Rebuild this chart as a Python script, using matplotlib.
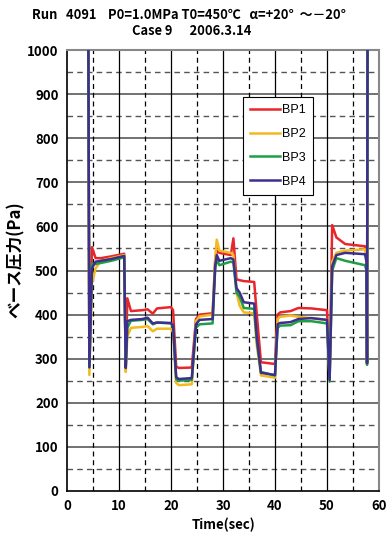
import matplotlib
matplotlib.use("Agg")
import matplotlib.pyplot as plt

plt.rcParams['font.family'] = ['Noto Sans CJK JP', 'DejaVu Sans']

# Time (sec) breakpoints, shared by the four sensors
time = [4.1, 4.3, 4.8, 5.5, 6.5, 8.5, 11.0, 11.3, 11.6, 12.3, 14.5, 15.5, 16.5, 17.3,
        20.0, 20.4, 21.0, 21.5, 24.0, 24.8, 25.5, 28.0, 28.5, 28.8, 29.3, 31.5,
        32.0, 32.6, 33.2, 34.0, 36.0, 36.5, 37.3, 40.0, 40.5, 41.0, 43.0, 44.5,
        47.0, 50.0, 50.5, 51.0, 51.8, 53.5, 57.3, 57.6, 57.7, 57.8]

# Base pressure (Pa)
bp1 = [1050, 285, 553, 528, 528, 532, 538, 285, 437, 408, 410, 412, 402, 414,
       417, 410, 282, 279, 280, 390, 400, 403, 520, 545, 540, 535,
       573, 480, 478, 476, 474, 400, 292, 288, 400, 405, 408, 415,
       414, 410, 260, 603, 575, 560, 555, 540, 290, 1050]
bp2 = [1050, 263, 470, 505, 522, 528, 535, 270, 350, 370, 372, 374, 362, 368,
       368, 360, 245, 240, 242, 385, 396, 400, 530, 570, 545, 540,
       535, 450, 420, 405, 403, 330, 262, 257, 390, 395, 398, 395,
       392, 388, 255, 520, 540, 545, 548, 530, 290, 1050]
bp3 = [1050, 280, 515, 515, 517, 522, 530, 280, 370, 386, 388, 390, 378, 382,
       380, 372, 253, 250, 252, 370, 378, 380, 505, 525, 512, 520,
       518, 450, 440, 415, 413, 340, 270, 262, 370, 375, 376, 385,
       385, 380, 248, 500, 528, 522, 512, 500, 286, 1050]
bp4 = [1050, 281, 505, 520, 522, 526, 533, 279, 385, 388, 390, 393, 380, 382,
       381, 375, 258, 254, 256, 378, 388, 390, 510, 535, 522, 528,
       525, 460, 450, 428, 425, 350, 268, 263, 378, 381, 383, 390,
       392, 388, 252, 510, 535, 540, 537, 520, 290, 1050]

series = [('BP1', bp1, '#e8262c'), ('BP2', bp2, '#f4b91e'),
          ('BP3', bp3, '#1f9e45'), ('BP4', bp4, '#3d2f8e')]

fig = plt.figure(figsize=(3.88, 5.37), dpi=100)
ax = fig.add_axes([67/388, 46/537, 312/388, 441/537])

# grid
for y in range(50, 1000, 100):
    ax.axhline(y, color='#555555', lw=1.0, ls=(0, (4, 3)), zorder=1)
for y in range(100, 1000, 100):
    ax.axhline(y, color='#666666', lw=1.3, zorder=1)
for x in range(5, 60, 10):
    ax.axvline(x, color='black', lw=0.9, ls=(0, (4, 3)), zorder=1)
for x in range(10, 60, 10):
    ax.axvline(x, color='black', lw=0.9, zorder=1)

for name, vals, col in series:
    ax.plot(time, vals, color=col, lw=1.8, label=name, zorder=3)

ax.set_xlim(0, 60)
ax.set_ylim(0, 1000)
ax.set_xticks(range(0, 61, 10))
ax.set_yticks(range(0, 1001, 100))
ax.tick_params(length=0, labelsize=9.5, pad=6)
for lab in ax.get_xticklabels() + ax.get_yticklabels():
    lab.set_fontweight('bold')

ax.spines['top'].set_color('#888888')
ax.spines['right'].set_color('#888888')
ax.spines['top'].set_linewidth(1.5)
ax.spines['right'].set_linewidth(1.5)
ax.spines['left'].set_linewidth(1.2)
ax.spines['bottom'].set_linewidth(1.2)

ax.set_xlabel('Time(sec)', fontsize=9.5, fontweight='bold', labelpad=3)
ax.set_ylabel('ベース圧力(Pa)', fontsize=12, fontweight='bold')
ax.yaxis.set_label_coords(-0.135, 0.525)

leg = ax.legend(loc='upper left', bbox_to_anchor=(0.564, 0.893), frameon=True,
                fancybox=False, edgecolor='black', framealpha=1,
                prop={'family': 'Liberation Sans', 'size': 9},
                handlelength=2.4, labelspacing=0.95, handletextpad=0.2,
                borderpad=0.55, borderaxespad=0)
leg.get_frame().set_linewidth(0.8)
leg.set_zorder(5)

fig.text(0.488, 0.972, 'Run   4091    P0=1.0MPa T0=450℃   α=+20°  ～－20°',
         ha='center', va='center', fontsize=9.3, fontweight='bold')
fig.text(0.493, 0.942, 'Case 9      2006.3.14',
         ha='center', va='center', fontsize=9.3, fontweight='bold')

fig.savefig('out.png', dpi=100)
